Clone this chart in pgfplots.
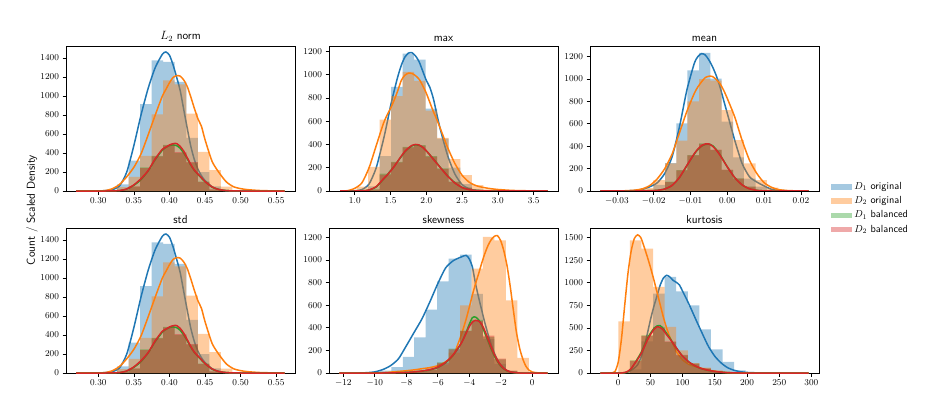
\documentclass[border=0pt]{standalone}
\usepackage{pgfplots}
\usepackage{pgfplotstable}
\pgfplotsset{compat=1.18}
\definecolor{tabblue}{HTML}{1F77B4}
\definecolor{taborange}{HTML}{FF7F0E}
\definecolor{tabgreen}{HTML}{2CA02C}
\definecolor{tabred}{HTML}{D62728}

\pgfplotstableread{
x b o g r
0.3264 70 40 10 12
0.3426 320 150 45 50
0.3588 915 370 250 240
0.3750 1375 806 370 365
0.3912 1360 1166 485 480
0.4074 1150 1124 400 410
0.4236 560 816 300 305
0.4398 200 413 100 95
0.4560 50 220 15 18
0.4722 10 45 2 3
0.4884 0 0 0 0
}\LtwoHist
\pgfplotstableread{
x b o g r
0.269 0 0 0 0
0.300 1 1 0 0
0.310 4 5 0 0
0.320 15 25 1 1
0.330 55 70 5 5
0.340 200 150 20 22
0.350 480 250 60 65
0.360 800 390 120 130
0.370 1080 590 210 215
0.380 1300 800 330 340
0.390 1440 1000 430 440
0.395 1464 1070 458 462
0.400 1430 1140 478 485
0.405 1330 1195 485 498
0.410 1200 1215 478 500
0.415 1060 1210 450 470
0.420 860 1170 400 420
0.425 660 1100 340 350
0.430 470 990 270 280
0.435 330 870 215 220
0.440 230 760 175 180
0.445 160 680 135 140
0.450 110 540 98 100
0.460 45 310 40 42
0.470 15 190 14 15
0.480 4 95 4 4
0.490 1 45 1 1
0.500 0 25 0 0
0.510 0 14 0 0
0.530 0 4 0 0
0.5617 0 0 0 0
}\LtwoKde

\pgfplotstableread{
x b o g r
1.025 5 37 2 2
1.186 40 208 15 12
1.347 300 614 150 140
1.508 894 816 250 245
1.669 1180 1023 380 375
1.830 1128 946 394 390
1.991 708 690 300 295
2.152 451 457 194 190
2.313 200 274 80 78
2.474 60 137 30 28
2.635 15 51 6 6
2.796 3 15 1 1
2.957 0 0 0 0
}\MaxHist
\pgfplotstableread{
x b o g r
0.796 0 0 0 0
0.90 0 3 0 0
1.00 2 23 0 0
1.10 12 70 1 1
1.20 60 200 8 9
1.30 200 390 35 38
1.40 440 580 100 105
1.45 580 650 135 135
1.50 730 710 175 170
1.55 860 780 210 210
1.60 980 860 255 255
1.65 1080 950 295 300
1.70 1150 995 335 340
1.75 1185 1012 365 370
1.80 1188 1010 388 392
1.85 1160 990 396 400
1.90 1110 960 392 395
1.95 1030 905 375 375
2.00 950 840 345 345
2.05 890 760 310 310
2.10 790 680 275 270
2.15 650 610 238 235
2.20 520 530 200 198
2.30 300 370 130 125
2.40 145 235 70 68
2.50 55 135 30 30
2.60 18 75 11 11
2.70 6 45 4 4
2.80 2 30 1 1
2.90 0 20 0 0
3.00 0 13 0 0
3.20 0 5 0 0
3.40 0 2 0 0
3.695 0 0 0 0
}\MaxKde

\pgfplotstableread{
x b o g r
-0.02315 10 25 0 0
-0.02007 55 98 5 5
-0.01691 250 247 83 80
-0.01383 603 450 187 185
-0.01085 1078 800 321 318
-0.00769 1233 1000 425 420
-0.00461 1004 985 365 370
-0.00154 620 722 187 190
0.00154 300 454 113 110
0.00452 110 247 39 40
0.00769 40 98 5 6
0.01076 10 30 0 0
0.01384 0 0 0 0
}\MeanHist
\pgfplotstableread{
x b o g r
-0.0345 0 0 0 0
-0.028 1 2 0 0
-0.025 5 8 0 0
-0.023 15 20 1 1
-0.021 39 50 3 3
-0.019 74 110 6 6
-0.017 157 200 18 18
-0.015 306 330 50 50
-0.013 573 520 120 122
-0.011 900 710 225 228
-0.009 1137 870 330 332
-0.008 1200 930 370 375
-0.007 1227 975 400 405
-0.006 1215 1013 415 420
-0.005 1170 1025 418 420
-0.004 1108 1022 405 400
-0.003 1030 995 370 365
-0.002 930 959 325 320
-0.001 810 900 270 268
0.000 692 826 215 215
0.002 454 662 120 120
0.004 247 454 55 55
0.006 128 276 20 20
0.008 80 157 6 6
0.010 45 74 1 1
0.012 15 33 0 0
0.014 5 12 0 0
0.017 1 3 0 0
0.0221 0 0 0 0
}\MeanKde

\pgfplotstableread{
x b o g r
-9.678 20 0 0 0
-8.950 53 5 0 0
-8.222 142 15 3 3
-7.494 316 25 12 15
-6.766 560 40 28 30
-6.038 811 75 95 90
-5.310 1012 180 215 210
-4.582 1047 599 375 370
-3.854 700 923 470 460
-3.126 300 1204 320 330
-2.398 80 1174 120 127
-1.670 15 643 18 22
-0.942 2 133 1 2
-0.214 0 0 0 0
}\SkewHist
\pgfplotstableread{
x b o g r
-12.25 0 0 0 0
-11.0 0 0 0 0
-10.5 3 0 0 0
-10.0 10 1 0 0
-9.5 30 3 0 0
-9.0 65 8 1 1
-8.5 125 14 3 3
-8.0 240 20 5 5
-7.5 360 28 9 10
-7.0 480 38 16 18
-6.5 630 48 27 30
-6.0 790 65 48 52
-5.5 930 100 90 95
-5.0 995 160 160 165
-4.5 1027 340 265 265
-4.2 1041 475 360 350
-4.0 1010 580 430 410
-3.8 938 690 490 450
-3.6 790 790 495 466
-3.4 666 880 470 460
-3.2 552 975 420 430
-3.0 440 1060 350 370
-2.8 340 1130 280 300
-2.6 250 1180 210 230
-2.4 175 1210 150 165
-2.2 115 1215 100 110
-2.0 72 1170 60 70
-1.8 45 1080 35 40
-1.6 22 950 18 22
-1.4 12 770 8 10
-1.2 6 560 4 5
-1.0 2 360 1 2
-0.8 1 220 0 0
-0.6 0 125 0 0
-0.4 0 60 0 0
-0.2 0 25 0 0
0.0 0 9 0 0
0.4 0 1 0 0
0.98 0 0 0 0
}\SkewKde

\pgfplotstableread{
x b o g r
-18 0 10 0 0
0 5 572 3 5
18 40 1470 140 135
36 350 1377 417 410
54 880 953 510 500
72 1064 510 343 350
90 905 250 196 200
108 750 110 103 105
126 484 60 48 50
144 262 30 20 22
162 122 10 8 8
180 30 3 2 2
198 8 0 0 0
216 0 0 0 0
}\KurtHist
\pgfplotstableread{
x b o g r
-27.7 0 0 0 0
-15 0 0 0 0
-10 0 2 0 0
-5 0 18 0 0
0 0 122 0 0
5 1 380 0 0
10 4 750 3 5
15 12 1100 15 20
20 30 1350 45 50
25 55 1490 100 100
30 90 1530 160 150
35 170 1500 220 210
40 280 1400 300 280
45 430 1290 380 360
50 590 1170 440 425
55 730 1040 490 480
60 850 900 520 510
65 971 760 525 505
70 1050 620 490 475
75 1082 500 440 425
80 1065 400 390 380
85 1027 320 330 330
90 1005 240 280 280
95 975 190 230 230
100 905 145 185 185
110 760 95 120 120
120 600 70 75 78
130 445 50 45 48
140 295 33 28 30
150 185 20 16 18
160 110 10 8 9
170 58 5 4 4
180 30 2 1 1
190 14 1 0 0
200 6 0 0 0
220 1 0 0 0
240 0 0 0 0
295.7 0 0 0 0
}\KurtKde

\pgfplotsset{
  panel/.style={
    scale only axis, width=229pt, height=145pt, anchor=south west,
    ymin=0,
    axis line style={line width=0.7pt},
    every tick/.style={black, line width=0.7pt},
    tick align=outside, tick pos=left, major tick length=3.5pt,
    tick label style={font=\fontsize{9.3}{10}\selectfont},
    title style={font=\sffamily\fontsize{11.5}{13}\selectfont, yshift=-5pt},
    scaled ticks=false,
    /pgf/number format/1000 sep={},
  },
  hist/.style={ybar interval, fill=#1, fill opacity=0.4, draw=none,
    legend image code/.code={\fill[##1] (0pt,-2.7pt) rectangle (21pt,2.7pt);}},
  kde/.style={draw=#1, line width=1.5pt, smooth, tension=0.4, forget plot},
}
\newcommand{\panelplots}[2]{%
  \addplot[hist=tabblue] table[x=x,y=b]{#1};
  \addplot[kde=tabblue] table[x=x,y=b]{#2};
  \addplot[hist=taborange] table[x=x,y=o]{#1};
  \addplot[kde=taborange] table[x=x,y=o]{#2};
  \addplot[hist=tabgreen] table[x=x,y=g]{#1};
  \addplot[kde=tabgreen] table[x=x,y=g]{#2};
  \addplot[hist=tabred] table[x=x,y=r]{#1};
  \addplot[kde=tabred] table[x=x,y=r]{#2};
}

\begin{document}
\begin{tikzpicture}
\path[use as bounding box] (0,0) rectangle (939pt,394pt);

\begin{axis}[panel, at={(66pt,203pt)}, title={$L_2$ norm},
  xmin=0.2546, xmax=0.5764, ymax=1527,
  xtick={0.30,0.35,0.40,0.45,0.50,0.55},
  xticklabel style={/pgf/number format/fixed,/pgf/number format/fixed zerofill,/pgf/number format/precision=2},
  ytick={0,200,400,600,800,1000,1200,1400}]
\panelplots{\LtwoHist}{\LtwoKde}
\end{axis}

\begin{axis}[panel, at={(329pt,203pt)}, title={max},
  xmin=0.64, xmax=3.84, ymax=1246,
  xtick={1.0,1.5,2.0,2.5,3.0,3.5},
  xticklabel style={/pgf/number format/fixed,/pgf/number format/fixed zerofill,/pgf/number format/precision=1},
  ytick={0,200,400,600,800,1000,1200}]
\panelplots{\MaxHist}{\MaxKde}
\end{axis}

\begin{axis}[panel, at={(590pt,203pt)}, title={mean},
  xmin=-0.0373, xmax=0.0249, ymax=1295,
  xtick={-0.03,-0.02,-0.01,0,0.01,0.02},
  xticklabel style={/pgf/number format/fixed,/pgf/number format/fixed zerofill,/pgf/number format/precision=2},
  ytick={0,200,400,600,800,1000,1200},
  legend entries={$D_1$ original,$D_2$ original,$D_1$ balanced,$D_2$ balanced},
  legend cell align=left,
  legend style={at={(1.04,0.09)}, anchor=north west, draw=none, fill=none,
    font=\sffamily\fontsize{10.3}{12}\selectfont, row sep=1pt,
    nodes={inner sep=2pt, text height=7pt, text depth=2.3pt}}]
\panelplots{\MeanHist}{\MeanKde}
\end{axis}

\begin{axis}[panel, at={(66pt,21pt)}, title={std},
  xmin=0.2546, xmax=0.5764, ymax=1527,
  xtick={0.30,0.35,0.40,0.45,0.50,0.55},
  xticklabel style={/pgf/number format/fixed,/pgf/number format/fixed zerofill,/pgf/number format/precision=2},
  ytick={0,200,400,600,800,1000,1200,1400}]
\panelplots{\LtwoHist}{\LtwoKde}
\end{axis}

\begin{axis}[panel, at={(329pt,21pt)}, title={skewness},
  xmin=-12.91, xmax=1.64, ymax=1283,
  xtick={-12,-10,-8,-6,-4,-2,0},
  ytick={0,200,400,600,800,1000,1200}]
\panelplots{\SkewHist}{\SkewKde}
\end{axis}

\begin{axis}[panel, at={(590pt,21pt)}, title={kurtosis},
  xmin=-43.9, xmax=311.8, ymax=1606,
  xtick={0,50,100,150,200,250,300},
  ytick={0,250,500,750,1000,1250,1500}]
\panelplots{\KurtHist}{\KurtKde}
\end{axis}

\node[rotate=90, font=\sffamily\fontsize{11.5}{13}\selectfont] at (32pt,184pt) {Count / Scaled Density};
\end{tikzpicture}
\end{document}
